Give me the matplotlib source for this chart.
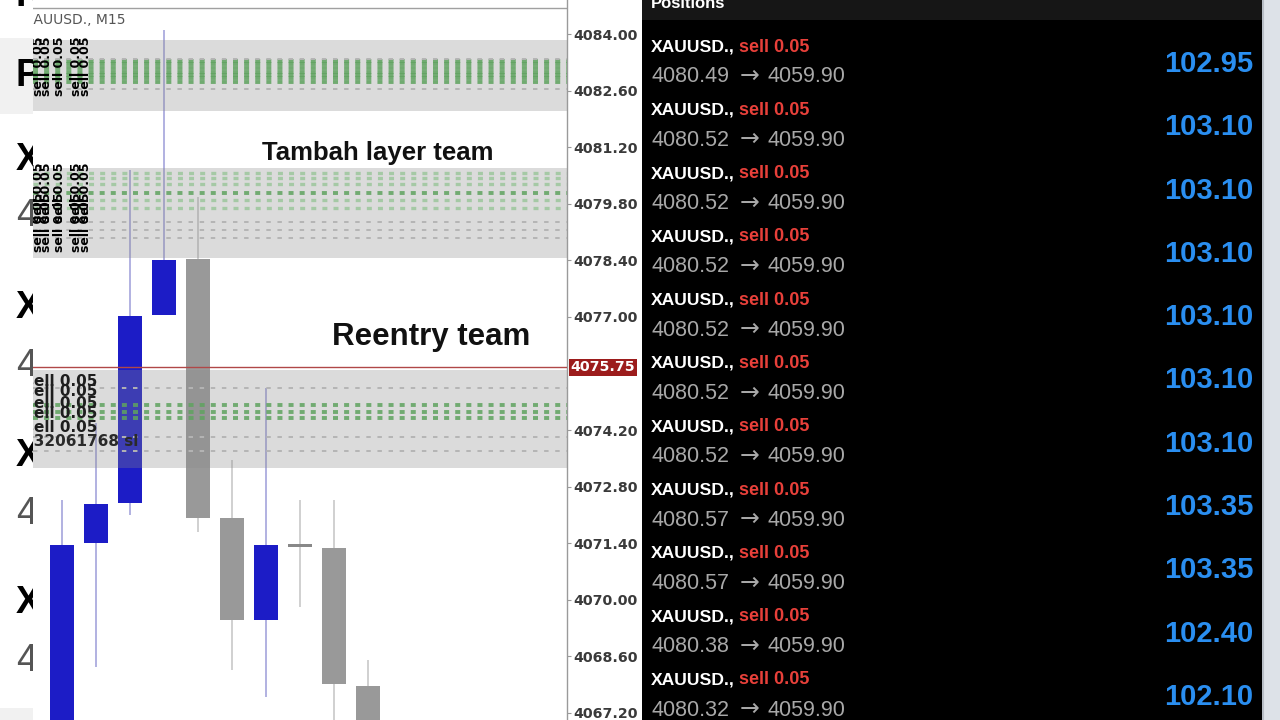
import matplotlib
matplotlib.use("Agg")
import matplotlib.pyplot as plt
from matplotlib.patches import Rectangle

plt.rcParams['lines.scale_dashes'] = False

# XAUUSD M15 candles
opens = [4066.60, 4071.41, 4072.40, 4077.05, 4078.43, 4072.02, 4069.50, 4071.34, 4071.28, 4067.87]
highs = [4072.47, 4074.37, 4080.63, 4084.10, 4079.97, 4073.46, 4075.24, 4072.47, 4072.47, 4068.51]
lows = [4066.40, 4068.34, 4072.10, 4077.05, 4071.68, 4068.26, 4067.59, 4069.82, 4066.50, 4066.40]
closes = [4071.36, 4072.37, 4077.02, 4078.41, 4072.02, 4069.50, 4071.36, 4071.31, 4067.92, 4066.60]

price_ticks = [4084.00, 4082.60, 4081.20, 4079.80, 4078.40, 4077.00,
               4074.20, 4072.80, 4071.40, 4070.00, 4068.60, 4067.20]
last_price = 4075.75

zones = [(4082.09, 4083.85), (4078.46, 4080.68), (4073.26, 4075.69)]
green_strong = [4083.33, 4083.25, 4083.16, 4083.07, 4082.99, 4082.90, 4082.81,
                4080.07, 4074.82, 4074.65, 4074.50]
green_pale = [4080.56, 4080.44, 4080.29, 4079.89, 4079.69]
grey_levels = [4083.38, 4082.64, 4079.35, 4079.15, 4078.95, 4075.24, 4074.03, 4073.68]

# open positions list
entries = [4080.49, 4080.52, 4080.52, 4080.52, 4080.52, 4080.52, 4080.52,
           4080.57, 4080.57, 4080.38, 4080.32]
current_price = 4059.90
profits = [102.95, 103.10, 103.10, 103.10, 103.10, 103.10, 103.10,
           103.35, 103.35, 102.40, 102.10]

W, H = 1280, 720
fig = plt.figure(figsize=(12.8, 7.2), dpi=100)
fig.patch.set_facecolor('white')


def box(x0, x1):
    return [x0 / W, 0, (x1 - x0) / W, 1]


def xd(px):
    return (px - 62) / 34.0


def yd(py):
    return 4084 - (py - 34) * 1.4 / 56.58


# left strip: leftover of the screenshot underneath
ax_s = fig.add_axes(box(0, 33))
ax_s.set_xlim(0, 33)
ax_s.set_ylim(720, 0)
ax_s.axis('off')
ax_s.add_patch(Rectangle((0, 38), 33, 76, color='#f1f1f1', lw=0))
ax_s.add_patch(Rectangle((0, 708), 33, 12, color='#f1f1f1', lw=0))
strip_letters = [('R', -4, 'black', 'bold'), ('P', 76, 'black', 'bold'),
                 ('X', 160, 'black', 'bold'), ('4', 216, '#555555', 'light'),
                 ('X', 308, 'black', 'bold'), ('4', 366, '#555555', 'light'),
                 ('X', 456, 'black', 'bold'), ('4', 514, '#555555', 'light'),
                 ('X', 603, 'black', 'bold'), ('4', 661, '#555555', 'light')]
for ch, yy, col, wt in strip_letters:
    ax_s.text(16, yy, ch, fontsize=27, color=col, fontweight=wt,
              family='Liberation Sans', ha='left', va='center', clip_on=True)

# main chart
ax = fig.add_axes(box(33, 567))
ax.set_xlim(xd(33), xd(567))
ax.set_ylim(yd(720), yd(0))
ax.set_facecolor('white')
for s in ['left', 'top', 'bottom']:
    ax.spines[s].set_visible(False)
ax.spines['right'].set_color('#9a9a9a')
ax.spines['right'].set_linewidth(1)
ax.set_xticks([])
ax.yaxis.tick_right()
ax.set_yticks(price_ticks)
ax.set_yticklabels(['%.2f' % p for p in price_ticks])
ax.tick_params(axis='y', length=3, width=0.8, color='#9a9a9a', pad=1.5,
               labelsize=10.2, labelcolor='#3a3a3a')
for lab in ax.get_yticklabels():
    lab.set_fontweight('bold')
ax.axhline(yd(8), color='#a0a0a0', lw=1)

# candles
for i in range(len(opens)):
    o, h, l, c = opens[i], highs[i], lows[i], closes[i]
    up = c > o
    body = '#1c1cc6' if up else '#999999'
    wick = '#9c9cd8' if up else '#c4c4c4'
    if abs(c - o) < 0.1:
        body = '#888888'
    ax.vlines(i, l, h, color=wick, lw=1.1, zorder=2)
    ax.bar(i, max(abs(c - o), 0.06), bottom=min(o, c), width=0.68,
           color=body, lw=0, zorder=3)

# zones drawn over the candles
for lo, hi in zones:
    ax.axhspan(lo, hi, color='#8a8a8a', alpha=0.3, lw=0, zorder=4)

for p in green_strong:
    ax.axhline(p, color='#5fa35f', lw=2.8, alpha=0.85,
               linestyle=(0, (3.6, 4.4)), zorder=5)
for p in green_pale:
    ax.axhline(p, color='#8fc28f', lw=2.4, alpha=0.7,
               linestyle=(0, (3.6, 4.4)), zorder=5)
for p in grey_levels:
    ax.axhline(p, color='#b4b4b4', lw=1.4,
               linestyle=(0, (3.2, 4.8)), zorder=5)

ax.axhline(last_price, color='#b04848', lw=1, zorder=6)
ax.annotate('%.2f' % last_price, xy=(1, last_price),
            xycoords=('axes fraction', 'data'), xytext=(2.5, 0),
            textcoords='offset points', ha='left', va='center',
            fontsize=10.2, fontweight='bold', color='white',
            bbox=dict(boxstyle='square,pad=0.12', fc='#9c1c1c', ec='none'),
            annotation_clip=False, zorder=8)

# stacked order labels at the left edge
for cx in (38, 46, 60, 77, 86):
    ax.text(xd(cx), yd(66), 'sell 0.05', rotation=90, fontsize=9,
            fontweight='bold', color='black', ha='center', va='center',
            clip_on=True, zorder=7)
    for cy in (192, 222):
        ax.text(xd(cx), yd(cy), 'sell 0.05', rotation=90, fontsize=9,
                fontweight='bold', color='black', ha='center', va='center',
                clip_on=True, zorder=7)
for ry in (381, 392, 403, 414, 428):
    ax.text(xd(25), yd(ry), 'sell 0.05', fontsize=11, fontweight='bold',
            color='#1e1e1e', ha='left', va='center', clip_on=True, zorder=7)
ax.text(xd(21), yd(441), '#32061768 sl', fontsize=11, fontweight='bold',
        color='#2a2a2a', ha='left', va='center', clip_on=True, zorder=7)
ax.text(xd(24), yd(20), 'XAUUSD., M15', fontsize=10, color='#555555',
        ha='left', va='center', clip_on=True, zorder=7)

ax.text(xd(378), yd(153), 'Tambah layer team', fontsize=18.5, fontweight='bold',
        family='Liberation Sans', color='#111111', ha='center', va='center', zorder=7)
ax.text(xd(431), yd(337), 'Reentry team', fontsize=22.5, fontweight='bold',
        family='Liberation Sans', color='#111111', ha='center', va='center', zorder=7)

# positions panel
ax_p = fig.add_axes(box(642, 1262))
ax_p.set_xlim(0, 620)
ax_p.set_ylim(720, 0)
ax_p.set_facecolor('black')
ax_p.set_xticks([])
ax_p.set_yticks([])
for s in ax_p.spines.values():
    s.set_visible(False)

ax_p.add_patch(Rectangle((0, 0), 620, 20, color='#161616', lw=0, zorder=3))
ax_p.text(9, 4, 'Positions', fontsize=12, fontweight='bold', color='white',
          family='Liberation Sans', ha='left', va='center', zorder=4)

for i in range(len(entries)):
    y0 = 63.3 * i
    ax_p.text(9, 47 + y0, 'XAUUSD.,', fontsize=12.6, fontweight='bold',
              color='white', family='Liberation Sans', ha='left', va='center')
    ax_p.text(97, 47 + y0, 'sell 0.05', fontsize=13, fontweight='bold',
              color='#e8403a', family='Liberation Sans', ha='left', va='center')
    ax_p.text(9, 77 + y0, '%.2f' % entries[i], fontsize=15.5, color='#a8a8a8',
              family='Liberation Sans', ha='left', va='center')
    ax_p.text(108, 76 + y0, '\u2192', fontsize=17, color='#a8a8a8',
              family='DejaVu Sans', ha='center', va='center')
    ax_p.text(126, 77 + y0, '%.2f' % current_price, fontsize=15.5,
              color='#a8a8a8', family='Liberation Sans', ha='left', va='center')
    ax_p.text(611, 64 + y0, '%.2f' % profits[i], fontsize=21,
              fontweight='bold', color='#2a8ef0', family='Liberation Sans',
              ha='right', va='center')

# right edge strip
ax_r = fig.add_axes(box(1262, 1280))
ax_r.set_facecolor('#dde2e8')
ax_r.set_xticks([])
ax_r.set_yticks([])
for s in ax_r.spines.values():
    s.set_visible(False)
ax_r.axvline(0.05, color='#b8bec6', lw=1.5)

fig.savefig('out.png', dpi=100)
